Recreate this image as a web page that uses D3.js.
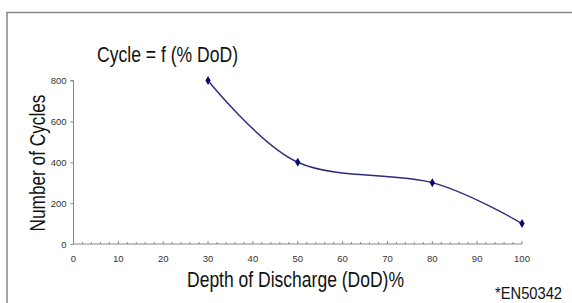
<!DOCTYPE html>
<html>
<head>
<meta charset="utf-8">
<script src="https://cdn.jsdelivr.net/npm/d3@7.9.0/dist/d3.min.js"></script>
<style>
  body { margin: 0; background: #fff; }
  .narrow { font-family: "Liberation Sans", Arial, sans-serif; fill: #111; }
  .tick-label { font-family: "Liberation Sans", Arial, sans-serif; font-size: 9.5px; fill: #333; }
</style>
</head>
<body>
<svg width="572" height="303"></svg>
<script>
// data
const dod = [30, 50, 80, 100];
const cycles = [800, 400, 300, 100];
const xTicks = [0, 10, 20, 30, 40, 50, 60, 70, 80, 90, 100];
const yTicks = [0, 200, 400, 600, 800];

const svg = d3.select('svg');

// outer frame (top and left edges visible)
svg.append('path')
  .attr('d', 'M7,303 V12.5 H572')
  .attr('fill', 'none')
  .attr('stroke', '#888')
  .attr('stroke-width', 1.5);

const x = d3.scaleLinear().domain([0, 100]).range([73.5, 522]);
const y = d3.scaleLinear().domain([0, 800]).range([244, 80.5]);

// y axis
const yAxis = svg.append('g').attr('transform', `translate(${x(0)},0)`)
  .call(d3.axisLeft(y).tickValues(yTicks).tickSize(3).tickPadding(4));
yAxis.select('.domain').attr('stroke', '#888').attr('d', `M-3,${y(800)}H0V${y(0)}`);
yAxis.selectAll('.tick line').attr('stroke', '#888');
yAxis.selectAll('.tick text').attr('class', 'tick-label');

// x axis, minor ticks every 2
const xAxis = svg.append('g').attr('transform', `translate(0,${y(0)})`);
xAxis.append('line')
  .attr('x1', x(0)).attr('x2', x(100))
  .attr('stroke', '#888');
xAxis.selectAll('.minor')
  .data(d3.range(0, 101, 2))
  .join('line')
  .attr('x1', d => x(d)).attr('x2', d => x(d))
  .attr('y1', 0).attr('y2', d => d % 10 === 0 ? -3 : -2)
  .attr('stroke', '#888');
xAxis.selectAll('text')
  .data(xTicks)
  .join('text')
  .attr('class', 'tick-label')
  .attr('x', d => x(d))
  .attr('y', 18)
  .attr('text-anchor', 'middle')
  .text(d => d);

// smoothed line
const pts = dod.map((d, i) => [x(d), y(cycles[i])]);
svg.append('path')
  .attr('d', d3.line().curve(d3.curveCatmullRom.alpha(0))(pts))
  .attr('fill', 'none')
  .attr('stroke', '#2b2b7a')
  .attr('stroke-width', 1.4);

// diamond markers
svg.selectAll('.marker')
  .data(pts)
  .join('path')
  .attr('d', d3.symbol().type(d3.symbolDiamond).size(24))
  .attr('transform', d => `translate(${d[0]},${d[1]})`)
  .attr('fill', '#0a0a6e');

// texts (narrow face imitated with textLength)
function label(txt, size, len) {
  return svg.append('text').attr('class', 'narrow')
    .attr('font-size', size)
    .attr('textLength', len)
    .attr('lengthAdjust', 'spacingAndGlyphs')
    .text(txt);
}

label('Cycle = f (% DoD)', 22.5, 141).attr('x', 97).attr('y', 62);

label('Number of Cycles', 22.5, 137)
  .attr('transform', 'translate(45,163) rotate(-90)')
  .attr('x', -68.5);

label('Depth of Discharge (DoD)%', 22.5, 217).attr('x', 187).attr('y', 287);

label('*EN50342', 16, 67).attr('x', 495).attr('y', 299);
</script>
</body>
</html>
